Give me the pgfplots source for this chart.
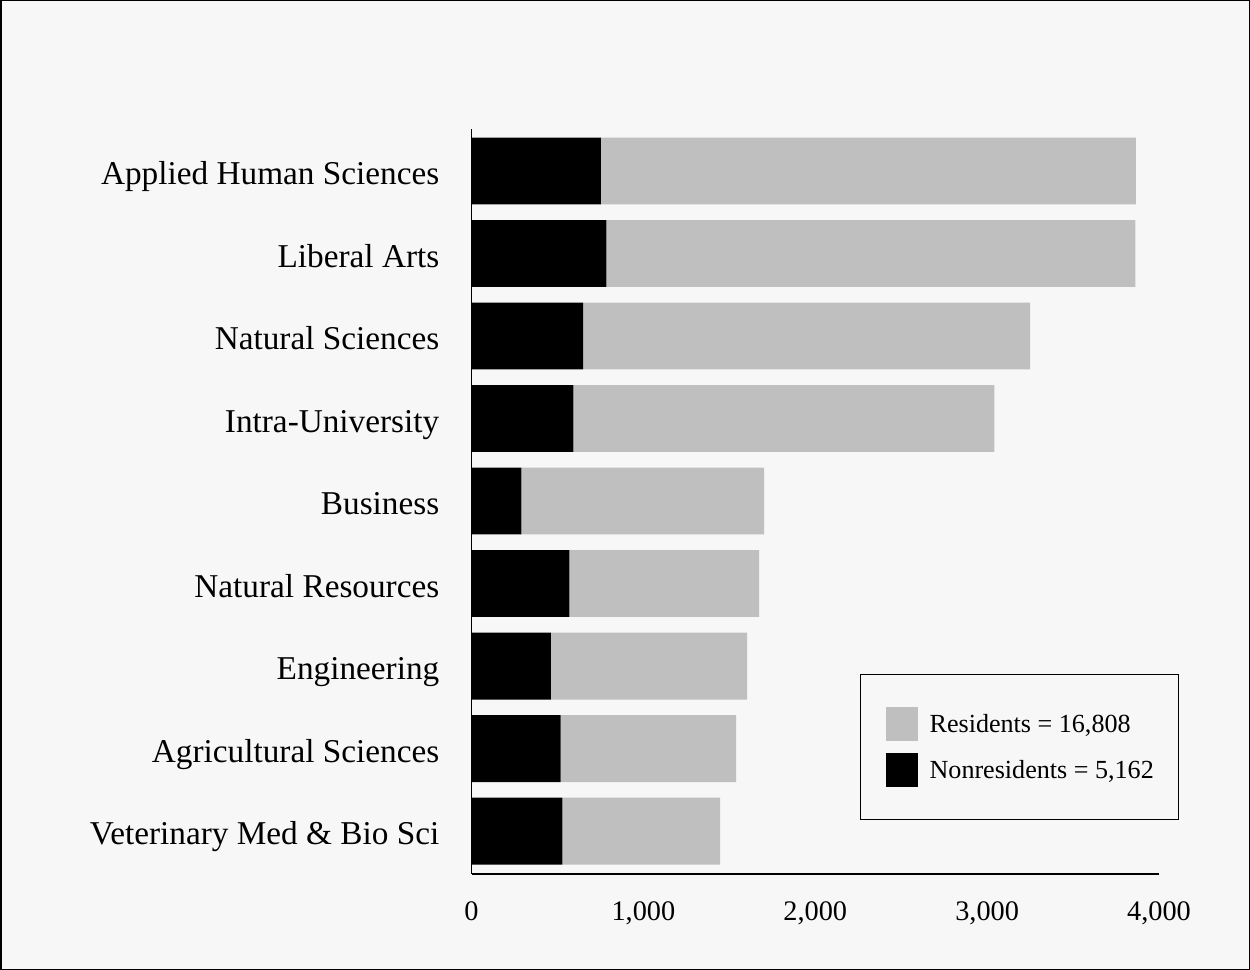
\documentclass[border=0pt]{standalone}
\usepackage{fontspec}
\setmainfont{Liberation Serif}
\usepackage{pgfplots}
\pgfplotsset{compat=1.18}
\definecolor{bg}{RGB}{247,247,247}
\definecolor{resgray}{RGB}{191,191,191}
\begin{document}
\begin{tikzpicture}
\path[use as bounding box] (0,0) rectangle (1250bp,970bp);
\draw[fill=bg, line width=1.5bp] (0.75bp,0.75bp) rectangle (1249.25bp,969.25bp);
\begin{axis}[
  at={(471.5bp,96bp)}, anchor=south west,
  scale only axis, width=687.5bp, height=745bp,
  xbar stacked, bar width=0.81,
  xmin=0, xmax=4000, ymin=-0.52, ymax=8.51,
  axis x line*=bottom, axis y line*=left,
  axis line style={-, line width=1.5bp, black},
  xtick={0,1000,2000,3000,4000}, ytick={0,1,2,3,4,5,6,7,8},
  yticklabels={Veterinary Med \& Bio Sci, Agricultural Sciences, Engineering, Natural Resources, Business, Intra-University, Natural Sciences, Liberal Arts, Applied Human Sciences},
  major tick length=0pt, tick style={draw=none},
  /pgf/number format/1000 sep={,}, /pgf/number format/assume math mode=true,
  xticklabel style={font=\fontsize{28.4}{34}\selectfont, inner sep=0pt, anchor=base, yshift=-46bp},
  yticklabel style={font=\fontsize{33.4}{40}\selectfont, inner sep=0pt, anchor=base east, xshift=-32bp, yshift=-13.5bp},
  reverse legend,
  legend image code/.code={\path[#1, draw=none] (0bp,-17bp) rectangle (32bp,17bp);},
  legend style={at={(rel axis cs:0.5651,0.2681)}, anchor=north west, draw=black, line width=1.2bp, fill=bg,
    font=\fontsize{26.2}{31}\selectfont, inner xsep=25bp, inner ysep=32bp, row sep=12.5bp,
    nodes={inner sep=0pt},
    /tikz/every odd column/.append style={column sep=12bp}},
  legend cell align=left,
]
\addplot[fill=black, draw=none] coordinates {(528,0) (519,1) (462,2) (569,3) (290,4) (592,5) (649,6) (784,7) (753,8)};
\addlegendentry{Nonresidents = 5,162}
\addplot[fill=resgray, draw=none] coordinates {(918,0) (1021,1) (1141,2) (1104,3) (1412,4) (2450,5) (2601,6) (3078,7) (3113,8)};
\addlegendentry{Residents = 16,808}
\end{axis}
\end{tikzpicture}
\end{document}
